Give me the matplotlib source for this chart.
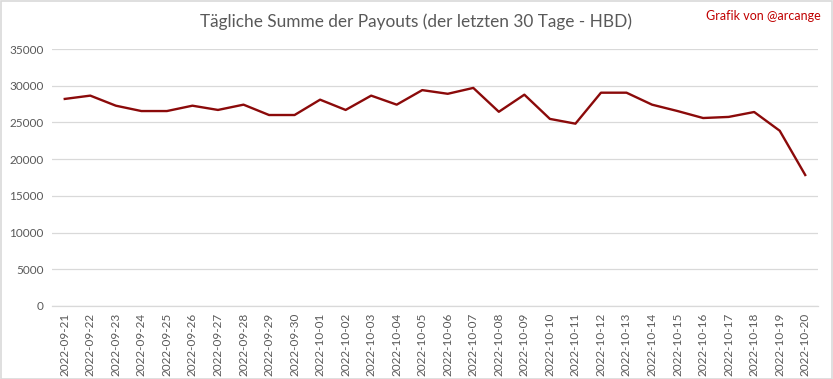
import matplotlib
matplotlib.use("Agg")
import matplotlib.pyplot as plt
from matplotlib.patches import Rectangle

dates = ["2022-09-21", "2022-09-22", "2022-09-23", "2022-09-24", "2022-09-25",
         "2022-09-26", "2022-09-27", "2022-09-28", "2022-09-29", "2022-09-30",
         "2022-10-01", "2022-10-02", "2022-10-03", "2022-10-04", "2022-10-05",
         "2022-10-06", "2022-10-07", "2022-10-08", "2022-10-09", "2022-10-10",
         "2022-10-11", "2022-10-12", "2022-10-13", "2022-10-14", "2022-10-15",
         "2022-10-16", "2022-10-17", "2022-10-18", "2022-10-19", "2022-10-20"]
payouts = [28200, 28650, 27280, 26550, 26550, 27280, 26700, 27420, 26010, 26010,
           28100, 26700, 28650, 27420, 29400, 28900, 29700, 26450, 28780, 25480,
           24830, 29050, 29050, 27420, 26550, 25600, 25750, 26420, 23870, 17840]
yticks = [0, 5000, 10000, 15000, 20000, 25000, 30000, 35000]

plt.rcParams['font.family'] = ['Lato', 'DejaVu Sans']

W, H = 833, 379
fig = plt.figure(figsize=(W / 100, H / 100), dpi=100)
ax = fig.add_axes([52 / W, 1 - 306 / H, (818 - 52) / W, (306 - 49) / H])

x = list(range(len(dates)))
ax.plot(x, payouts, color="#8B0A0A", linewidth=1.7, solid_joinstyle="round")

ax.set_xlim(-0.5, len(dates) - 0.5)
ax.set_ylim(0, 35000)
ax.set_yticks(yticks)
ax.set_yticklabels([str(v) for v in yticks], color="#595959", fontsize=8.5)
ax.set_xticks(x)
ax.set_xticklabels(dates, rotation=90, color="#595959", fontsize=8.5)
ax.tick_params(axis="both", length=0, pad=6)
ax.tick_params(axis="x", pad=5)
ax.grid(axis="y", color="#D9D9D9", linewidth=0.9)
ax.set_axisbelow(True)
for s in ["top", "right", "left"]:
    ax.spines[s].set_visible(False)
ax.spines["bottom"].set_color("#D9D9D9")
ax.spines["bottom"].set_linewidth(0.9)

fig.text(416 / W, 1 - 22 / H, "Tägliche Summe der Payouts (der letzten 30 Tage - HBD)",
         ha="center", va="center", fontsize=12.4, color="#595959")
fig.text(821 / W, 1 - 16 / H, "Grafik von @arcange", ha="right", va="center",
         fontsize=9, color="#C00000")

fig.patches.append(Rectangle((0.5 / W, 0.5 / H), 1 - 1.5 / W, 1 - 1.5 / H,
                             transform=fig.transFigure, fill=False,
                             edgecolor="#D9D9D9", linewidth=1.2))

fig.savefig("out.png", dpi=100)
